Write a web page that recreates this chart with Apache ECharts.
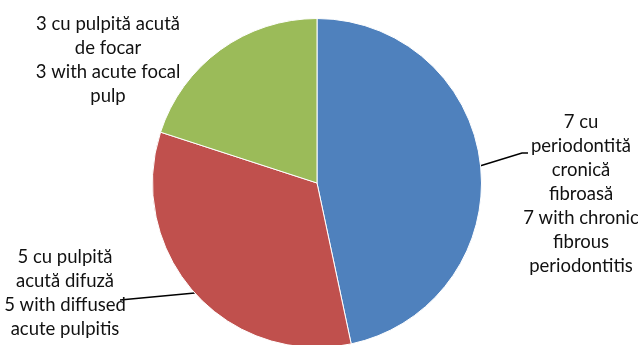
<!DOCTYPE html>
<html>
<head>
<meta charset="utf-8">
<script src="https://cdn.jsdelivr.net/npm/echarts@6/dist/echarts.min.js"></script>
<style>
html,body{margin:0;padding:0;background:#fff;}
#c{width:638px;height:345px;}
</style>
</head>
<body>
<div id="c"></div>
<script>
var categories = [
  "7 cu\nperiodontită\ncronică\nfibroasă\n7 with chronic\nfibrous\nperiodontitis",
  "5 cu pulpită\nacută difuză\n5 with diffused\nacute pulpitis",
  "3 cu pulpită acută\nde focar\n3 with acute focal\npulp"
];
var values = [7, 5, 3];
var colors = ["#4F81BD", "#C0504D", "#9BBB59"];
var labelPos = [[581, 194], [65, 293], [108, 60]];
var lineEnds = [[[522, 153], [528, 153]], [[120, 300]], null];

var data = categories.map(function (n, i) {
  return {
    name: n, value: values[i],
    itemStyle: { color: colors[i] },
    labelLine: { show: lineEnds[i] !== null }
  };
});

var chart = echarts.init(document.getElementById('c'));
chart.setOption({
  animation: false,
  backgroundColor: '#fff',
  series: [{
    type: 'pie',
    center: [317, 183],
    radius: 164.5,
    startAngle: 90,
    clockwise: true,
    data: data,
    itemStyle: { borderColor: '#ffffff', borderWidth: 1 },
    label: {
      show: true,
      position: 'outside',
      formatter: '{b}',
      fontFamily: 'Lato',
      fontSize: 18.5,
      lineHeight: 24,
      color: '#111',
      align: 'center',
      overflow: 'none',
      edgeDistance: 0,
      bleedMargin: 0
    },
    labelLine: {
      show: true,
      length: 20,
      length2: 20,
      lineStyle: { color: '#000', width: 1.5 }
    },
    labelLayout: function (params) {
      var i = params.dataIndex;
      var p = labelPos[i];
      var res = { x: p[0], y: p[1], align: 'center', verticalAlign: 'middle' };
      if (lineEnds[i] && params.labelLinePoints) {
        res.labelLinePoints = [params.labelLinePoints[0]].concat(lineEnds[i]);
      }
      return res;
    },
    emphasis: { disabled: true }
  }]
});
</script>
</body>
</html>
